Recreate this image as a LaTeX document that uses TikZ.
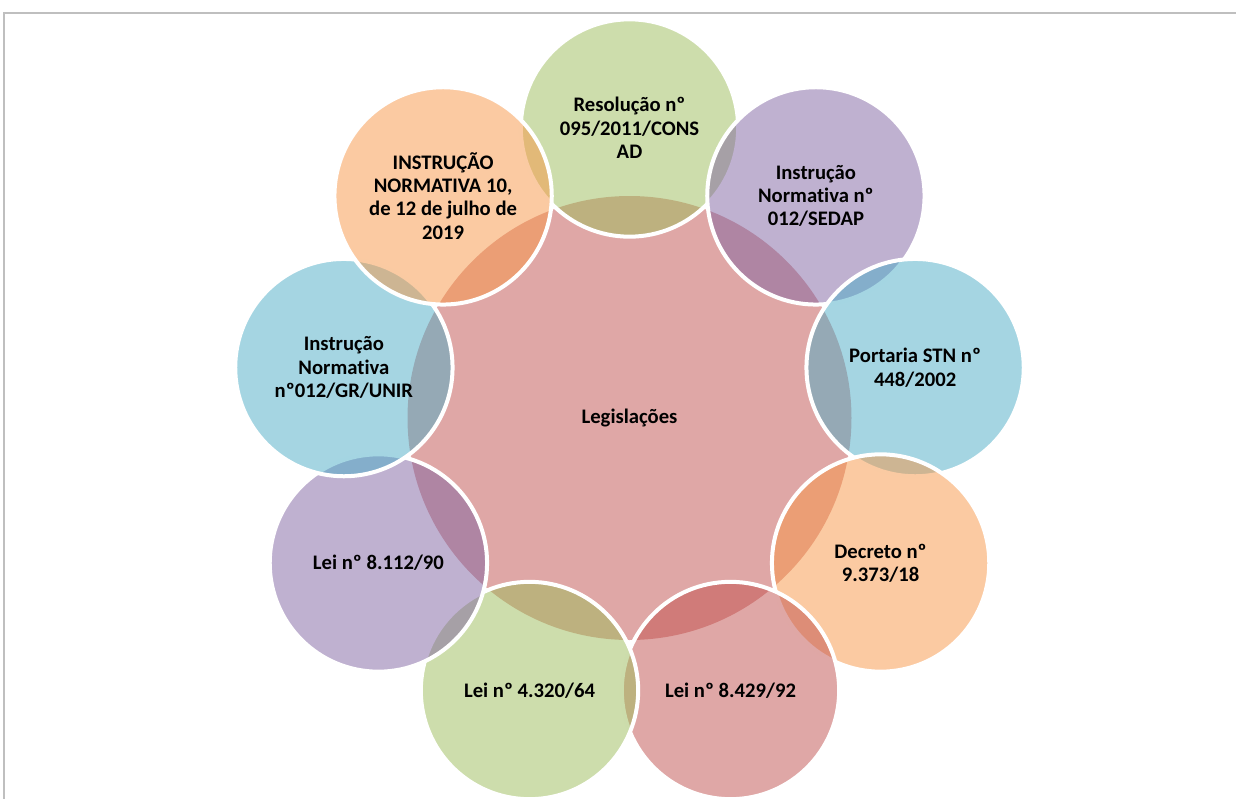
\documentclass[tikz,border=0pt]{standalone}
\usepackage{fontspec}
\setmainfont{Carlito}[Ligatures=NoCommon]
\definecolor{cgreen}{HTML}{9BBB59}
\definecolor{cpurple}{HTML}{8064A2}
\definecolor{caqua}{HTML}{4BACC6}
\definecolor{corange}{HTML}{F79646}
\definecolor{cred}{HTML}{C0504D}
\definecolor{framegray}{HTML}{BFBFBF}
\tikzset{
  venn/.style={circle, fill opacity=0.5, draw opacity=1, text opacity=1,
    inner sep=0pt, align=center, text=black,
    font=\bfseries\fontsize{15.5}{17.5}\selectfont},
  petal/.style={venn, draw=white, line width=3pt, minimum size=163pt},
  hub/.style={venn, draw=none, minimum size=333pt},
}
\begin{document}
\begin{tikzpicture}[x=0.75pt,y=-0.75pt]
\useasboundingbox (0,0) rectangle (1236,799);
\draw[framegray, line width=1.2pt] (4,799) -- (4,13) -- (1236,13);
\node[hub, fill=cred] (c) at (629.5,418) {Legislações};
\node[petal, fill=cgreen]  (p1) at (629.5,128) {Resolução nº\\095/2011/CONS\\AD};
\node[petal, fill=cpurple] (p2) at (815.9,195.9) {Instrução\\Normativa nº\\012/SEDAP};
\node[petal, fill=caqua]   (p3) at (915.1,367.6) {Portaria STN nº\\448/2002};
\node[petal, fill=corange] (p4) at (880.6,563) {Decreto nº\\9.373/18};
\node[petal, fill=cred]    (p5) at (730.5,690.5) {Lei nº 8.429/92};
\node[petal, fill=cgreen]  (p6) at (529.5,690.5) {Lei nº 4.320/64};
\node[petal, fill=cpurple] (p7) at (378.4,563) {Lei nº 8.112/90};
\node[petal, fill=caqua]   (p8) at (343.9,367.6) {Instrução\\Normativa\\nº012/GR/UNIR};
\node[petal, fill=corange] (p9) at (443.1,195.9) {INSTRUÇÃO\\NORMATIVA 10,\\de 12 de julho de\\2019};
\end{tikzpicture}
\end{document}
